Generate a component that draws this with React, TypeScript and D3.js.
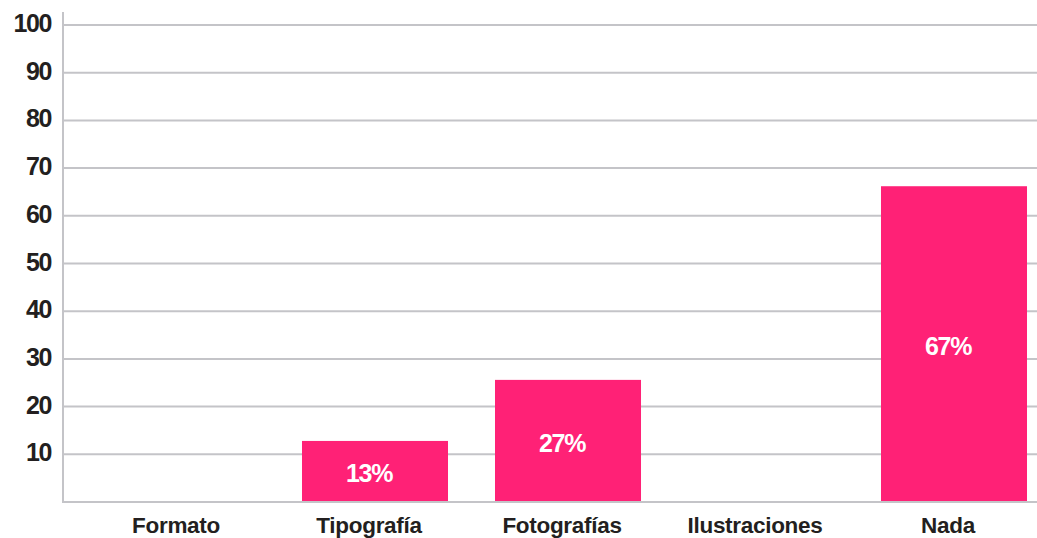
import React from "react";
import * as d3 from "d3";

const categories = ["Formato", "Tipografía", "Fotografías", "Ilustraciones", "Nada"];
const values: (number | null)[] = [null, 12.8, 25.6, null, 66.2];
const valueLabels = ["", "13%", "27%", "", "67%"];
const yTicks = [10, 20, 30, 40, 50, 60, 70, 80, 90, 100];

const W = 1037;
const H = 538;
const FONT = "'Liberation Sans', Arial, Helvetica, sans-serif";

export default function App() {
  const y = d3.scaleLinear().domain([0, 100]).range([502, 25]);
  const x = d3
    .scaleBand<string>()
    .domain(categories)
    .range([85.5, 1050.5])
    .paddingInner(0.2435)
    .paddingOuter(0.12175);
  const axisX = 63;
  const rightX = W;
  const gridColor = "#c4c4c8";

  return (
    <svg
      width={W}
      height={H}
      style={{ position: "absolute", left: 0, top: 0, display: "block", background: "#fff" }}
    >
      {yTicks.map((t) => (
        <g key={t}>
          <line x1={axisX} x2={rightX} y1={y(t)} y2={y(t)} stroke={gridColor} strokeWidth={2} />
          <text
            x={51}
            y={y(t) + 7}
            textAnchor="end"
            fontFamily={FONT}
            fontWeight={700}
            fontSize={25}
            letterSpacing={-1.4}
            fill="#231f20"
          >
            {t}
          </text>
        </g>
      ))}
      {categories.map((c, i) => {
        const v = values[i];
        const bx = x(c)!;
        return (
          <g key={c}>
            {v != null && (
              <rect x={bx} y={y(v)} width={x.bandwidth()} height={y(0) - y(v)} fill="#ff2176" />
            )}
            {v != null && valueLabels[i] && (
              <text
                x={bx + x.bandwidth() / 2 - 6}
                y={y(v / 2) + 11}
                textAnchor="middle"
                fontFamily={FONT}
                fontWeight={700}
                fontSize={25}
                letterSpacing={-1.3}
                fill="#ffffff"
              >
                {valueLabels[i]}
              </text>
            )}
            <text
              x={bx + x.bandwidth() / 2 - 6}
              y={533}
              textAnchor="middle"
              fontFamily={FONT}
              fontWeight={700}
              fontSize={22.5}
              letterSpacing={-0.3}
              fill="#231f20"
            >
              {c}
            </text>
          </g>
        );
      })}
      <line x1={axisX} x2={rightX} y1={y(0)} y2={y(0)} stroke={gridColor} strokeWidth={2} />
      <line x1={axisX} x2={axisX} y1={12} y2={y(0) + 1} stroke={gridColor} strokeWidth={2} />
    </svg>
  );
}
